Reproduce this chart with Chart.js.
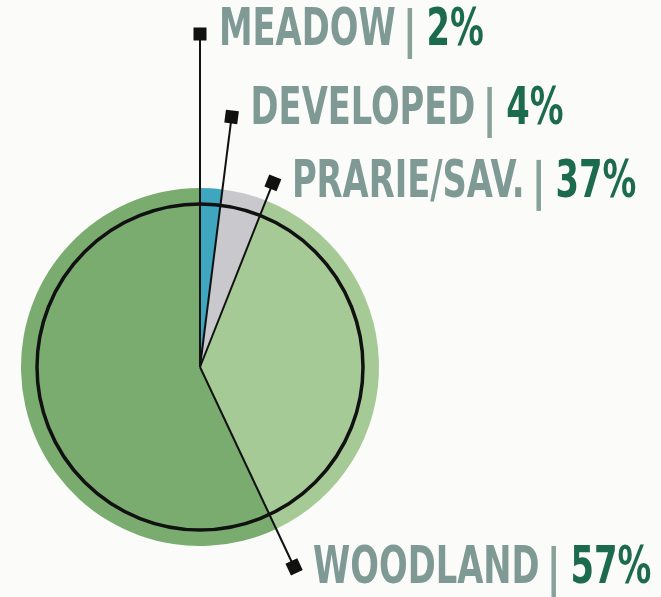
<!DOCTYPE html>
<html lang="en">
  <head>
    <meta charset="UTF-8" />
    <title>Land Cover</title>
    <style>
      html,
      body {
        margin: 0;
        padding: 0;
        background: #fbfbf9;
      }
      canvas {
        display: block;
      }
    </style>
  </head>
  <body>
    <canvas id="landChart" width="661" height="597"></canvas>

    <script src="https://cdn.jsdelivr.net/npm/chart.js@4.4.0/dist/chart.umd.min.js"></script>
    <script>
      var categories = ["MEADOW", "DEVELOPED", "PRARIE/SAV.", "WOODLAND"];
      var shares = [2, 4, 37, 57];
      var percentLabels = ["2%", "4%", "37%", "57%"];

      var sliceColors = ["#3fa6c0", "#c9c9cd", "#a6ca95", "#7aab6f"];
      // leader length from centre, and baseline shift of the label text
      var leaderLength = [333, 252, 198, 221];
      var labelDrop = [11, 7, 14, 16];

      var nameColor = "#7f9a94";
      var pctColor = "#1d6b4e";
      var labelFont = "bold 51px 'DejaVu Sans Condensed', 'DejaVu Sans', sans-serif";
      var squeeze = 0.735;

      var calloutPlugin = {
        id: "callouts",
        afterDatasetsDraw: function (chart) {
          var ctx = chart.ctx;
          var arcs = chart.getDatasetMeta(0).data;
          var cx = arcs[0].x;
          var cy = arcs[0].y;

          // black ring inside the pie
          ctx.save();
          ctx.beginPath();
          ctx.arc(cx, cy, arcs[0].outerRadius - 16, 0, Math.PI * 2);
          ctx.lineWidth = 3.5;
          ctx.strokeStyle = "#111";
          ctx.stroke();
          ctx.restore();

          for (var i = 0; i < arcs.length; i++) {
            var a = arcs[i].startAngle;
            var sx = cx + Math.cos(a) * leaderLength[i];
            var sy = cy + Math.sin(a) * leaderLength[i];

            ctx.save();
            ctx.beginPath();
            ctx.moveTo(cx, cy);
            ctx.lineTo(sx, sy);
            ctx.lineWidth = 2;
            ctx.strokeStyle = "#111";
            ctx.stroke();

            ctx.translate(sx, sy);
            ctx.rotate(a + Math.PI / 2);
            ctx.fillStyle = "#111";
            ctx.fillRect(-6.5, -6.5, 13, 13);
            ctx.restore();

            // label: name | pct
            var tx = sx + 19;
            var base = sy + labelDrop[i];
            ctx.save();
            ctx.font = labelFont;
            ctx.textBaseline = "alphabetic";
            ctx.textAlign = "left";
            var nameW = ctx.measureText(categories[i]).width * squeeze;

            ctx.save();
            ctx.translate(tx, base);
            ctx.scale(squeeze, 1);
            ctx.fillStyle = nameColor;
            ctx.fillText(categories[i], 0, 0);
            ctx.restore();

            var barX = tx + nameW + 12;
            ctx.fillStyle = "#88a29b";
            ctx.fillRect(barX, base - 37, 4.5, 51);

            ctx.save();
            ctx.translate(barX + 19, base);
            ctx.scale(squeeze, 1);
            ctx.fillStyle = pctColor;
            ctx.fillText(percentLabels[i], 0, 0);
            ctx.restore();
            ctx.restore();
          }
        },
      };

      var ctx = document.getElementById("landChart").getContext("2d");
      var landChart = new Chart(ctx, {
        type: "pie",
        data: {
          labels: categories,
          datasets: [
            {
              data: shares,
              backgroundColor: sliceColors,
              borderWidth: 0,
              hoverOffset: 0,
              offset: 0,
            },
          ],
        },
        options: {
          responsive: false,
          animation: false,
          layout: {
            padding: { left: 21, right: 282, top: 188, bottom: 51 },
          },
          plugins: {
            legend: { display: false },
            tooltip: { enabled: false },
          },
        },
        plugins: [calloutPlugin],
      });
    </script>
  </body>
</html>
